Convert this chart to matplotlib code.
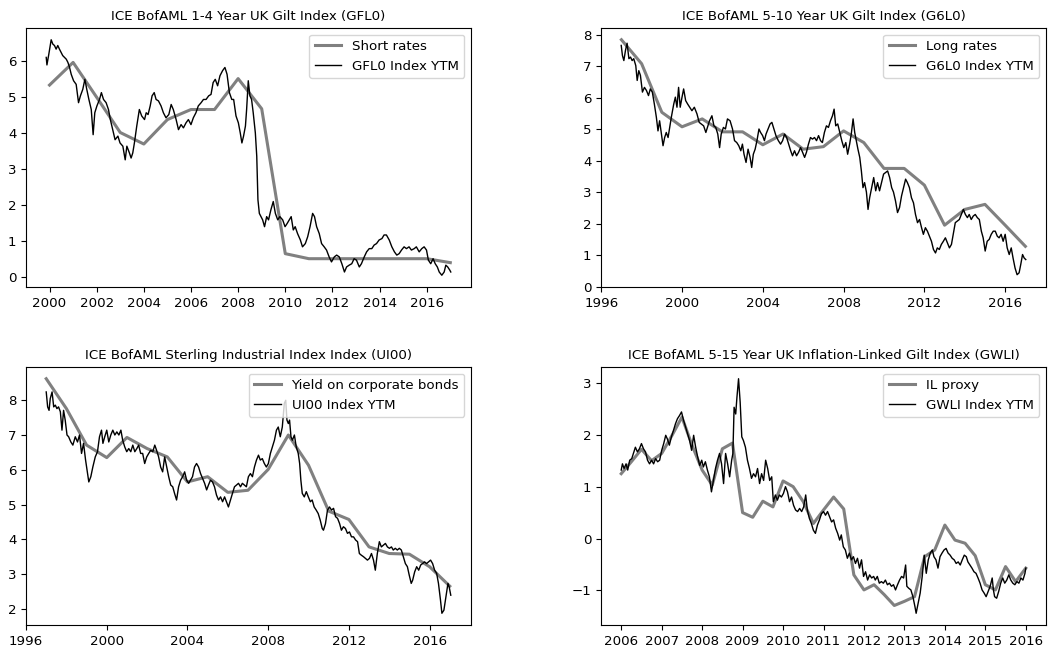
import matplotlib
matplotlib.use("Agg")
import matplotlib.pyplot as plt

plt.rcParams['font.family'] = ['DejaVu Sans']
plt.rcParams['font.size'] = 9.6

# ---- annual / quarterly proxies (grey) ----
short_year = [2000, 2001, 2002, 2003, 2004, 2005, 2006, 2007, 2008, 2009,
              2010, 2011, 2012, 2013, 2014, 2015, 2016, 2017]
short_rates = [5.34, 5.97, 5.0, 4.02, 3.70, 4.38, 4.66, 4.66, 5.52, 4.68,
               0.65, 0.51, 0.51, 0.51, 0.51, 0.51, 0.51, 0.40]

long_year = [1997, 1998, 1999, 2000, 2001, 2002, 2003, 2004, 2005, 2006, 2007,
             2008, 2009, 2010, 2011, 2012, 2013, 2014, 2015, 2016, 2017]
long_rates = [7.84, 7.08, 5.54, 5.08, 5.33, 4.92, 4.92, 4.51, 4.85, 4.37, 4.45,
              4.95, 4.58, 3.76, 3.76, 3.23, 1.96, 2.46, 2.62, 1.96, 1.29]

corp_year = long_year
corp_yield = [8.62, 7.76, 6.71, 6.35, 6.93, 6.61, 6.37, 5.65, 5.80, 5.35, 5.41,
              6.01, 7.00, 6.13, 4.81, 4.57, 3.78, 3.59, 3.57, 3.21, 2.65]

il_year = [2006.0, 2006.25, 2006.5, 2006.75, 2007.0, 2007.25, 2007.5, 2007.75,
           2008.0, 2008.25, 2008.5, 2008.75, 2009.0, 2009.25, 2009.5, 2009.75,
           2010.0, 2010.25, 2010.5, 2010.75, 2011.0, 2011.25, 2011.5, 2011.75,
           2012.0, 2012.25, 2012.5, 2012.75, 2013.0, 2013.25, 2013.5, 2013.75,
           2014.0, 2014.25, 2014.5, 2014.75, 2015.0, 2015.25, 2015.5, 2015.75,
           2016.0]
il_proxy = [1.25, 1.48, 1.72, 1.50, 1.64, 1.98, 2.34, 1.80,
            1.32, 1.03, 1.73, 1.84, 0.50, 0.41, 0.72, 0.61,
            1.11, 1.00, 0.71, 0.29, 0.55, 0.80, 0.57, -0.70,
            -0.99, -0.89, -1.08, -1.29, -1.21, -1.12, -0.35, -0.22,
            0.26, -0.03, -0.09, -0.33, -0.89, -0.99, -0.54, -0.83,
            -0.57]

# ---- index yields to maturity (black) ----
gfl0_year = [1999.86, 1999.89, 1999.97, 2000.07, 2000.14, 2000.21, 2000.28, 2000.35, 2000.42, 2000.49,
             2000.56, 2000.71, 2000.78, 2000.85, 2000.92, 2001.02, 2001.13, 2001.23, 2001.31, 2001.41,
             2001.50, 2001.58, 2001.67, 2001.77, 2001.85, 2001.92, 2002.01, 2002.12, 2002.20, 2002.29,
             2002.40, 2002.50, 2002.58, 2002.68, 2002.78, 2002.90, 2002.99, 2003.11, 2003.21, 2003.28,
             2003.39, 2003.46, 2003.53, 2003.60, 2003.70, 2003.81, 2003.91, 2004.03, 2004.10, 2004.18,
             2004.27, 2004.35, 2004.44, 2004.52, 2004.62, 2004.73, 2004.83, 2004.94, 2005.06, 2005.16,
             2005.25, 2005.37, 2005.47, 2005.58, 2005.68, 2005.79, 2005.89, 2006.00, 2006.10, 2006.21,
             2006.31, 2006.43, 2006.53, 2006.64, 2006.75, 2006.85, 2006.94, 2007.03, 2007.13, 2007.23,
             2007.34, 2007.44, 2007.53, 2007.63, 2007.73, 2007.81, 2007.91, 2008.01, 2008.09, 2008.16,
             2008.23, 2008.31, 2008.36, 2008.43, 2008.50, 2008.57, 2008.64, 2008.73, 2008.79, 2008.84,
             2008.90, 2008.97, 2009.04, 2009.12, 2009.21, 2009.29, 2009.39, 2009.49, 2009.58, 2009.68,
             2009.77, 2009.89, 2009.99, 2010.08, 2010.17, 2010.25, 2010.34, 2010.42, 2010.52, 2010.64,
             2010.73, 2010.85, 2010.95, 2011.05, 2011.16, 2011.24, 2011.33, 2011.44, 2011.54, 2011.65,
             2011.75, 2011.86, 2011.96, 2012.08, 2012.18, 2012.29, 2012.40, 2012.51, 2012.60, 2012.71,
             2012.82, 2012.92, 2013.02, 2013.14, 2013.23, 2013.35, 2013.45, 2013.56, 2013.67, 2013.77,
             2013.87, 2013.98, 2014.10, 2014.19, 2014.29, 2014.41, 2014.52, 2014.63, 2014.73, 2014.83,
             2014.93, 2015.04, 2015.14, 2015.25, 2015.35, 2015.47, 2015.56, 2015.68, 2015.79, 2015.89,
             2015.99, 2016.07, 2016.17, 2016.27, 2016.36, 2016.45, 2016.53, 2016.64, 2016.74, 2016.81,
             2016.89, 2016.98, 2017.02]
gfl0_ytm = [6.11, 5.90, 6.20, 6.60, 6.48, 6.44, 6.34, 6.44, 6.34, 6.25,
            6.16, 6.06, 5.97, 5.83, 5.64, 5.46, 5.36, 4.85, 5.04, 5.22,
            5.50, 5.22, 4.94, 4.66, 3.96, 4.57, 4.76, 4.94, 5.13, 4.94,
            4.85, 4.66, 4.38, 4.10, 3.82, 3.92, 3.73, 3.64, 3.26, 3.64,
            3.45, 3.31, 3.45, 3.73, 4.20, 4.66, 4.48, 4.38, 4.57, 4.52,
            4.76, 5.04, 5.13, 4.94, 4.90, 4.76, 4.57, 4.43, 4.52, 4.80,
            4.66, 4.38, 4.10, 4.24, 4.15, 4.29, 4.38, 4.24, 4.43, 4.57,
            4.76, 4.85, 4.94, 4.94, 5.04, 5.08, 5.41, 5.50, 5.32, 5.60,
            5.74, 5.83, 5.64, 5.13, 4.94, 4.94, 4.48, 4.29, 4.01, 3.73,
            3.92, 4.20, 4.66, 5.46, 5.04, 4.94, 4.57, 4.01, 3.36, 2.15,
            1.77, 1.68, 1.59, 1.40, 1.68, 1.59, 1.87, 2.10, 1.77, 1.59,
            1.68, 1.59, 1.40, 1.49, 1.59, 1.68, 1.31, 1.40, 1.21, 1.03,
            0.84, 0.93, 1.12, 1.40, 1.77, 1.68, 1.40, 1.21, 0.93, 0.84,
            0.75, 0.56, 0.42, 0.56, 0.61, 0.56, 0.37, 0.14, 0.28, 0.33,
            0.37, 0.51, 0.47, 0.28, 0.37, 0.56, 0.70, 0.79, 0.79, 0.89,
            0.93, 1.03, 1.07, 1.17, 1.17, 1.03, 0.84, 0.70, 0.61, 0.65,
            0.75, 0.84, 0.79, 0.84, 0.75, 0.79, 0.84, 0.70, 0.79, 0.84,
            0.75, 0.47, 0.37, 0.51, 0.37, 0.28, 0.14, 0.05, 0.14, 0.33,
            0.28, 0.19, 0.14]

g6l0_year = [1996.99, 1997.05, 1997.12, 1997.20, 1997.28, 1997.37, 1997.45, 1997.53, 1997.61, 1997.71,
             1997.78, 1997.86, 1997.94, 1998.04, 1998.14, 1998.24, 1998.34, 1998.43, 1998.53, 1998.63,
             1998.73, 1998.81, 1998.89, 1998.98, 1999.06, 1999.14, 1999.22, 1999.31, 1999.39, 1999.47,
             1999.59, 1999.67, 1999.75, 1999.83, 1999.91, 2000.00, 2000.08, 2000.18, 2000.28, 2000.38,
             2000.49, 2000.61, 2000.74, 2000.85, 2000.95, 2001.07, 2001.18, 2001.26, 2001.36, 2001.48,
             2001.58, 2001.67, 2001.77, 2001.86, 2001.94, 2002.05, 2002.15, 2002.25, 2002.38, 2002.50,
             2002.60, 2002.71, 2002.81, 2002.91, 2002.99, 2003.07, 2003.17, 2003.27, 2003.37, 2003.45,
             2003.53, 2003.62, 2003.71, 2003.81, 2003.89, 2003.99, 2004.08, 2004.16, 2004.26, 2004.36,
             2004.45, 2004.55, 2004.65, 2004.77, 2004.88, 2004.98, 2005.08, 2005.18, 2005.28, 2005.38,
             2005.47, 2005.57, 2005.67, 2005.77, 2005.87, 2005.97, 2006.07, 2006.16, 2006.26, 2006.36,
             2006.46, 2006.56, 2006.66, 2006.76, 2006.86, 2006.95, 2007.05, 2007.15, 2007.25, 2007.35,
             2007.45, 2007.53, 2007.61, 2007.71, 2007.81, 2007.91, 2008.01, 2008.11, 2008.20, 2008.30,
             2008.38, 2008.47, 2008.55, 2008.63, 2008.71, 2008.80, 2008.88, 2008.96, 2009.04, 2009.13,
             2009.21, 2009.29, 2009.39, 2009.49, 2009.59, 2009.68, 2009.78, 2009.88, 2009.98, 2010.08,
             2010.18, 2010.28, 2010.38, 2010.47, 2010.57, 2010.67, 2010.77, 2010.87, 2010.97, 2011.07,
             2011.16, 2011.26, 2011.36, 2011.46, 2011.56, 2011.66, 2011.76, 2011.86, 2011.95, 2012.05,
             2012.15, 2012.25, 2012.35, 2012.45, 2012.55, 2012.64, 2012.74, 2012.84, 2012.94, 2013.04,
             2013.14, 2013.24, 2013.34, 2013.43, 2013.53, 2013.63, 2013.73, 2013.83, 2013.93, 2014.03,
             2014.13, 2014.22, 2014.32, 2014.42, 2014.52, 2014.62, 2014.72, 2014.82, 2014.91, 2015.01,
             2015.11, 2015.21, 2015.31, 2015.41, 2015.51, 2015.61, 2015.70, 2015.80, 2015.90, 2016.00,
             2016.10, 2016.20, 2016.30, 2016.39, 2016.49, 2016.59, 2016.69, 2016.77, 2016.86, 2016.94,
             2017.02]
g6l0_ytm = [7.66, 7.34, 7.18, 7.50, 7.73, 7.24, 7.29, 7.18, 7.24, 7.02,
            6.55, 6.86, 6.71, 6.18, 6.33, 6.23, 6.07, 6.28, 6.18, 5.80,
            5.38, 4.95, 5.27, 4.85, 4.48, 4.74, 4.90, 4.74, 5.06, 5.38,
            5.80, 6.02, 5.70, 6.33, 5.70, 6.02, 6.28, 5.91, 5.80, 5.70,
            5.59, 5.70, 5.49, 5.22, 5.17, 5.11, 4.90, 5.06, 5.27, 5.43,
            5.11, 5.06, 4.85, 4.42, 4.85, 5.06, 5.01, 5.33, 5.27, 5.01,
            4.64, 4.58, 4.48, 4.32, 4.53, 4.21, 3.95, 4.37, 4.11, 3.79,
            4.21, 4.37, 4.64, 5.01, 4.90, 4.80, 4.64, 4.85, 5.01, 5.17,
            5.22, 5.01, 4.80, 4.64, 4.53, 4.64, 4.85, 4.74, 4.53, 4.32,
            4.16, 4.32, 4.16, 4.27, 4.42, 4.27, 4.11, 4.27, 4.53, 4.74,
            4.69, 4.74, 4.64, 4.80, 4.64, 4.58, 4.90, 5.11, 5.06, 5.27,
            5.43, 5.64, 5.11, 5.17, 4.90, 4.64, 4.42, 4.58, 4.21, 4.53,
            4.85, 5.33, 4.90, 4.64, 4.37, 4.11, 3.68, 3.15, 3.31, 3.01,
            2.46, 2.83, 3.15, 3.47, 3.05, 3.31, 3.05, 3.31, 3.58, 3.63,
            3.68, 3.47, 3.15, 3.01, 2.73, 2.36, 2.52, 2.89, 3.15, 3.42,
            3.31, 3.15, 2.83, 2.67, 2.30, 2.04, 2.14, 1.88, 1.67, 1.88,
            1.77, 1.61, 1.45, 1.19, 1.08, 1.24, 1.19, 1.35, 1.45, 1.56,
            1.40, 1.24, 1.35, 1.67, 2.04, 2.09, 2.14, 2.30, 2.46, 2.30,
            2.20, 2.30, 2.14, 2.25, 2.30, 2.20, 2.14, 1.77, 1.56, 1.14,
            1.45, 1.51, 1.67, 1.77, 1.77, 1.61, 1.56, 1.67, 1.45, 1.67,
            1.24, 1.03, 1.24, 0.92, 0.60, 0.39, 0.45, 0.71, 1.03, 0.92,
            0.87]

ui00_year = [1997.00, 1997.07, 1997.14, 1997.20, 1997.29, 1997.37, 1997.45, 1997.53, 1997.61, 1997.70,
             1997.78, 1997.86, 1997.94, 1998.03, 1998.11, 1998.22, 1998.32, 1998.44, 1998.55, 1998.65,
             1998.75, 1998.85, 1998.95, 1999.05, 1999.11, 1999.21, 1999.31, 1999.43, 1999.54, 1999.64,
             1999.74, 1999.81, 1999.90, 2000.00, 2000.10, 2000.20, 2000.30, 2000.40, 2000.50, 2000.60,
             2000.70, 2000.79, 2000.89, 2000.99, 2001.09, 2001.19, 2001.29, 2001.39, 2001.49, 2001.58,
             2001.68, 2001.78, 2001.88, 2001.98, 2002.08, 2002.18, 2002.28, 2002.38, 2002.47, 2002.57,
             2002.67, 2002.77, 2002.87, 2002.97, 2003.07, 2003.17, 2003.27, 2003.36, 2003.46, 2003.56,
             2003.66, 2003.76, 2003.86, 2003.96, 2004.06, 2004.15, 2004.25, 2004.35, 2004.45, 2004.55,
             2004.65, 2004.75, 2004.85, 2004.95, 2005.04, 2005.14, 2005.24, 2005.34, 2005.44, 2005.54,
             2005.64, 2005.74, 2005.84, 2005.93, 2006.03, 2006.13, 2006.23, 2006.33, 2006.43, 2006.53,
             2006.63, 2006.72, 2006.82, 2006.92, 2007.02, 2007.12, 2007.22, 2007.32, 2007.42, 2007.52,
             2007.61, 2007.71, 2007.81, 2007.91, 2008.01, 2008.11, 2008.21, 2008.31, 2008.41, 2008.50,
             2008.60, 2008.70, 2008.80, 2008.87, 2008.93, 2009.00, 2009.06, 2009.13, 2009.20, 2009.30,
             2009.39, 2009.49, 2009.56, 2009.62, 2009.69, 2009.79, 2009.89, 2009.99, 2010.09, 2010.18,
             2010.28, 2010.38, 2010.48, 2010.58, 2010.68, 2010.74, 2010.84, 2010.94, 2011.04, 2011.14,
             2011.24, 2011.34, 2011.44, 2011.54, 2011.63, 2011.73, 2011.83, 2011.93, 2012.03, 2012.13,
             2012.23, 2012.33, 2012.43, 2012.52, 2012.62, 2012.72, 2012.82, 2012.92, 2013.02, 2013.12,
             2013.22, 2013.31, 2013.41, 2013.51, 2013.61, 2013.71, 2013.81, 2013.91, 2014.01, 2014.11,
             2014.20, 2014.30, 2014.40, 2014.50, 2014.60, 2014.70, 2014.80, 2014.90, 2014.99, 2015.09,
             2015.16, 2015.26, 2015.36, 2015.46, 2015.56, 2015.65, 2015.75, 2015.85, 2015.95, 2016.05,
             2016.15, 2016.25, 2016.35, 2016.44, 2016.54, 2016.61, 2016.71, 2016.81, 2016.91, 2016.97,
             2017.05]
ui00_ytm = [8.24, 7.81, 7.71, 8.05, 8.24, 7.81, 7.86, 7.76, 7.81, 7.67,
            7.14, 7.71, 7.43, 7.00, 6.95, 6.80, 6.71, 6.95, 6.80, 7.00,
            6.47, 6.76, 6.28, 5.89, 5.65, 5.80, 6.08, 6.37, 6.52, 6.95,
            7.14, 6.76, 6.95, 7.14, 6.80, 7.00, 7.14, 7.00, 7.09, 7.00,
            7.14, 6.85, 6.66, 6.52, 6.61, 6.52, 6.71, 6.52, 6.61, 6.71,
            6.47, 6.47, 6.18, 6.37, 6.47, 6.56, 6.52, 6.71, 6.56, 6.37,
            6.08, 5.94, 6.37, 6.08, 5.80, 5.56, 5.51, 5.32, 5.13, 5.51,
            5.70, 5.80, 5.94, 5.70, 5.61, 5.70, 5.80, 6.08, 6.18, 6.08,
            5.89, 5.75, 5.61, 5.42, 5.56, 5.70, 5.65, 5.51, 5.27, 5.13,
            5.22, 5.08, 5.22, 5.08, 4.93, 5.13, 5.32, 5.51, 5.56, 5.61,
            5.51, 5.61, 5.56, 5.51, 5.80, 5.89, 5.80, 6.08, 6.28, 6.42,
            6.28, 6.32, 6.18, 6.08, 6.18, 6.47, 6.66, 6.85, 7.14, 7.23,
            6.95, 7.23, 7.91, 8.00, 7.43, 7.33, 7.43, 6.95, 6.85, 7.00,
            6.66, 6.47, 6.18, 5.70, 5.32, 5.22, 5.37, 5.22, 5.08, 5.13,
            4.93, 4.84, 4.74, 4.55, 4.31, 4.26, 4.45, 4.84, 4.93, 4.84,
            4.89, 4.65, 4.60, 4.45, 4.26, 4.36, 4.31, 4.17, 4.21, 4.07,
            4.07, 3.98, 3.93, 3.59, 3.54, 3.50, 3.45, 3.40, 3.45, 3.59,
            3.40, 3.11, 3.59, 3.93, 3.78, 3.83, 3.88, 3.78, 3.74, 3.78,
            3.69, 3.74, 3.69, 3.74, 3.69, 3.50, 3.30, 3.21, 2.97, 2.73,
            2.82, 3.06, 3.21, 3.11, 3.26, 3.30, 3.35, 3.30, 3.35, 3.40,
            3.30, 3.11, 3.02, 2.73, 2.25, 1.87, 1.96, 2.35, 2.73, 2.63,
            2.39]

gwli_year = [2006.00, 2006.03, 2006.07, 2006.12, 2006.16, 2006.21, 2006.26, 2006.30, 2006.35, 2006.40,
             2006.45, 2006.50, 2006.55, 2006.60, 2006.65, 2006.70, 2006.75, 2006.80, 2006.85, 2006.90,
             2006.95, 2007.00, 2007.05, 2007.10, 2007.14, 2007.19, 2007.24, 2007.29, 2007.34, 2007.39,
             2007.44, 2007.49, 2007.54, 2007.59, 2007.64, 2007.69, 2007.74, 2007.79, 2007.84, 2007.89,
             2007.94, 2007.99, 2008.03, 2008.08, 2008.13, 2008.18, 2008.23, 2008.28, 2008.33, 2008.38,
             2008.43, 2008.48, 2008.53, 2008.58, 2008.63, 2008.68, 2008.73, 2008.76, 2008.79, 2008.83,
             2008.86, 2008.90, 2008.94, 2008.98, 2009.02, 2009.07, 2009.12, 2009.17, 2009.22, 2009.27,
             2009.32, 2009.37, 2009.42, 2009.47, 2009.52, 2009.57, 2009.62, 2009.67, 2009.72, 2009.76,
             2009.81, 2009.86, 2009.91, 2009.96, 2010.01, 2010.06, 2010.11, 2010.16, 2010.21, 2010.26,
             2010.31, 2010.36, 2010.41, 2010.46, 2010.51, 2010.56, 2010.60, 2010.65, 2010.70, 2010.75,
             2010.80, 2010.85, 2010.90, 2010.95, 2011.00, 2011.05, 2011.10, 2011.15, 2011.20, 2011.25,
             2011.30, 2011.35, 2011.40, 2011.44, 2011.49, 2011.54, 2011.59, 2011.64, 2011.69, 2011.74,
             2011.79, 2011.84, 2011.89, 2011.94, 2011.99, 2012.04, 2012.09, 2012.14, 2012.19, 2012.24,
             2012.28, 2012.33, 2012.38, 2012.43, 2012.48, 2012.53, 2012.58, 2012.63, 2012.68, 2012.73,
             2012.78, 2012.83, 2012.88, 2012.93, 2012.98, 2013.03, 2013.06, 2013.11, 2013.16, 2013.21,
             2013.26, 2013.29, 2013.34, 2013.39, 2013.44, 2013.49, 2013.54, 2013.59, 2013.64, 2013.69,
             2013.73, 2013.78, 2013.83, 2013.88, 2013.93, 2013.98, 2014.03, 2014.08, 2014.13, 2014.18,
             2014.23, 2014.28, 2014.33, 2014.38, 2014.43, 2014.48, 2014.53, 2014.57, 2014.62, 2014.67,
             2014.72, 2014.77, 2014.82, 2014.87, 2014.92, 2014.97, 2015.02, 2015.07, 2015.12, 2015.17,
             2015.20, 2015.23, 2015.28, 2015.33, 2015.38, 2015.43, 2015.48, 2015.53, 2015.58, 2015.63,
             2015.68, 2015.73, 2015.78, 2015.83, 2015.88, 2015.93, 2015.98, 2016.00]
gwli_ytm = [1.32, 1.44, 1.35, 1.44, 1.32, 1.51, 1.54, 1.64, 1.76, 1.67,
            1.73, 1.83, 1.73, 1.67, 1.51, 1.44, 1.51, 1.44, 1.54, 1.48,
            1.51, 1.70, 1.83, 1.99, 1.92, 1.80, 1.96, 2.08, 2.21, 2.31,
            2.37, 2.44, 2.28, 2.15, 2.02, 1.89, 1.70, 1.99, 1.76, 1.57,
            1.41, 1.51, 1.38, 1.48, 1.32, 1.19, 0.90, 1.12, 1.35, 1.51,
            1.64, 1.44, 1.06, 1.64, 1.44, 1.19, 1.51, 1.64, 2.53, 2.40,
            2.72, 3.08, 2.63, 1.96, 1.89, 1.76, 1.51, 1.35, 1.16, 1.25,
            1.19, 1.35, 1.06, 1.25, 1.12, 1.51, 1.35, 1.12, 1.19, 0.71,
            0.84, 0.74, 0.84, 0.80, 0.87, 1.00, 0.90, 0.71, 0.80, 0.64,
            0.55, 0.52, 0.58, 0.52, 0.61, 0.84, 0.55, 0.39, 0.29, 0.16,
            0.10, 0.26, 0.36, 0.48, 0.52, 0.45, 0.52, 0.42, 0.32, 0.36,
            0.20, 0.10, -0.03, 0.07, -0.16, -0.22, -0.38, -0.28, -0.41, -0.35,
            -0.48, -0.38, -0.57, -0.41, -0.73, -0.64, -0.80, -0.70, -0.76, -0.73,
            -0.80, -0.73, -0.86, -0.83, -0.86, -0.80, -0.89, -0.86, -0.92, -0.89,
            -0.99, -0.89, -0.80, -0.73, -0.76, -0.51, -0.92, -0.96, -0.99, -1.12,
            -1.31, -1.44, -1.24, -1.05, -0.73, -0.32, -0.67, -0.41, -0.28, -0.22,
            -0.35, -0.41, -0.57, -0.35, -0.28, -0.22, -0.19, -0.28, -0.32, -0.38,
            -0.41, -0.48, -0.45, -0.51, -0.41, -0.32, -0.35, -0.45, -0.51, -0.57,
            -0.64, -0.67, -0.76, -0.86, -0.99, -1.05, -1.12, -1.02, -0.92, -0.76,
            -0.99, -1.12, -1.15, -1.02, -0.86, -0.76, -0.86, -0.80, -0.70, -0.80,
            -0.86, -0.89, -0.83, -0.86, -0.76, -0.80, -0.67, -0.57]

panels = [
    ("ICE BofAML 1-4 Year UK Gilt Index (GFL0)", short_year, short_rates, "Short rates",
     gfl0_year, gfl0_ytm, "GFL0 Index YTM", list(range(2000, 2017, 2)), list(range(0, 7))),
    ("ICE BofAML 5-10 Year UK Gilt Index (G6L0)", long_year, long_rates, "Long rates",
     g6l0_year, g6l0_ytm, "G6L0 Index YTM", list(range(1996, 2017, 4)), list(range(0, 9))),
    ("ICE BofAML Sterling Industrial Index Index (UI00)", corp_year, corp_yield, "Yield on corporate bonds",
     ui00_year, ui00_ytm, "UI00 Index YTM", list(range(1996, 2017, 4)), list(range(2, 9))),
    ("ICE BofAML 5-15 Year UK Inflation-Linked Gilt Index (GWLI)", il_year, il_proxy, "IL proxy",
     gwli_year, gwli_ytm, "GWLI Index YTM", list(range(2006, 2017)), list(range(-1, 4))),
]

W, H = 1048, 652
fig = plt.figure(figsize=(W / 100, H / 100), dpi=100)
# axes boxes in pixels: (left, top, right, bottom)
boxes = [(26, 28, 471, 287), (601, 28, 1046, 287),
         (26, 367, 471, 625), (601, 367, 1046, 625)]

for (title, px, py, plabel, dx, dy, dlabel, xt, yt), (l, t, r, b) in zip(panels, boxes):
    assert len(dx) == len(dy), (dlabel, len(dx), len(dy))
    ax = fig.add_axes([l / W, 1 - b / H, (r - l) / W, (b - t) / H])
    ax.plot(px, py, color='gray', lw=2.2, label=plabel)
    ax.plot(dx, dy, color='black', lw=1.0, label=dlabel)
    ax.set_title(title, fontsize=9.6)
    ax.set_xticks(xt)
    ax.set_yticks(yt)
    ax.tick_params(labelsize=9.6)
    ax.legend(loc='upper right', fontsize=9.6)

fig.savefig('out.png', dpi=100)
